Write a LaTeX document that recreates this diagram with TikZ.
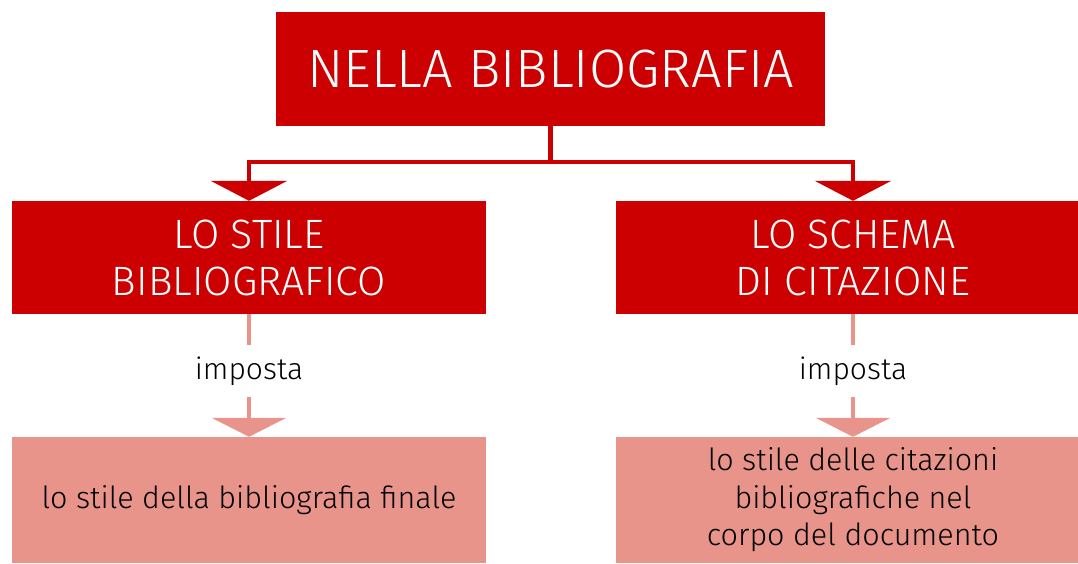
\documentclass[tikz,border=0pt]{standalone}
\usepackage{fontspec}
\setmainfont{Fira Sans Light}
\usetikzlibrary{arrows.meta}
\definecolor{bred}{HTML}{CC0000}
\definecolor{bpink}{HTML}{E8948A}
\begin{document}
\begin{tikzpicture}[x=1pt,y=-1pt,
  redbox/.style={fill=bred, text=white, inner sep=0pt, align=center, minimum width=474pt, minimum height=113pt, font=\fontsize{41}{47}\selectfont},
  pinkbox/.style={fill=bpink, text=black, inner sep=0pt, align=center, minimum width=474pt, minimum height=126pt, font=\fontsize{30.5}{37.5}\selectfont},
  redline/.style={draw=bred, line width=4.5pt, -{Triangle[width=76pt,length=20pt]}},
  pinkline/.style={draw=bpink, line width=4.5pt},
  pinkarrow/.style={draw=bpink, line width=4.5pt, -{Triangle[width=74pt,length=19pt]}},
  label/.style={inner sep=0pt, minimum height=52pt, font=\fontsize{30}{36}\selectfont}]
\useasboundingbox (0,0) rectangle (1078,563);
\node[redbox, minimum width=549pt, minimum height=114pt, font=\fontsize{54}{60}\selectfont] (top) at (550.5,69) {NELLA BIBLIOGRAFIA};
\node[redbox] (l1) at (249,257.5) {LO STILE\\BIBLIOGRAFICO};
\node[redbox] (r1) at (853,257.5) {LO SCHEMA\\DI CITAZIONE};
\node[label] (li) at (249,371) {imposta};
\node[label] (ri) at (853,371) {imposta};
\node[pinkbox] (l2) at (249,500) {lo stile della bibliografia finale};
\node[pinkbox] (r2) at (853,500) {\raisebox{-2pt}{\parbox{474pt}{\centering lo stile delle citazioni\\bibliografiche nel\\corpo del documento}}};
\draw[redline] (top.south) -- ++(0,36) -| (l1.north);
\draw[redline] (top.south) -- ++(0,36) -| (r1.north);
\draw[pinkline] (l1.south) -- (li.north);
\draw[pinkline] (r1.south) -- (ri.north);
\draw[pinkarrow] (li.south) -- (l2.north);
\draw[pinkarrow] (ri.south) -- (r2.north);
\end{tikzpicture}
\end{document}
